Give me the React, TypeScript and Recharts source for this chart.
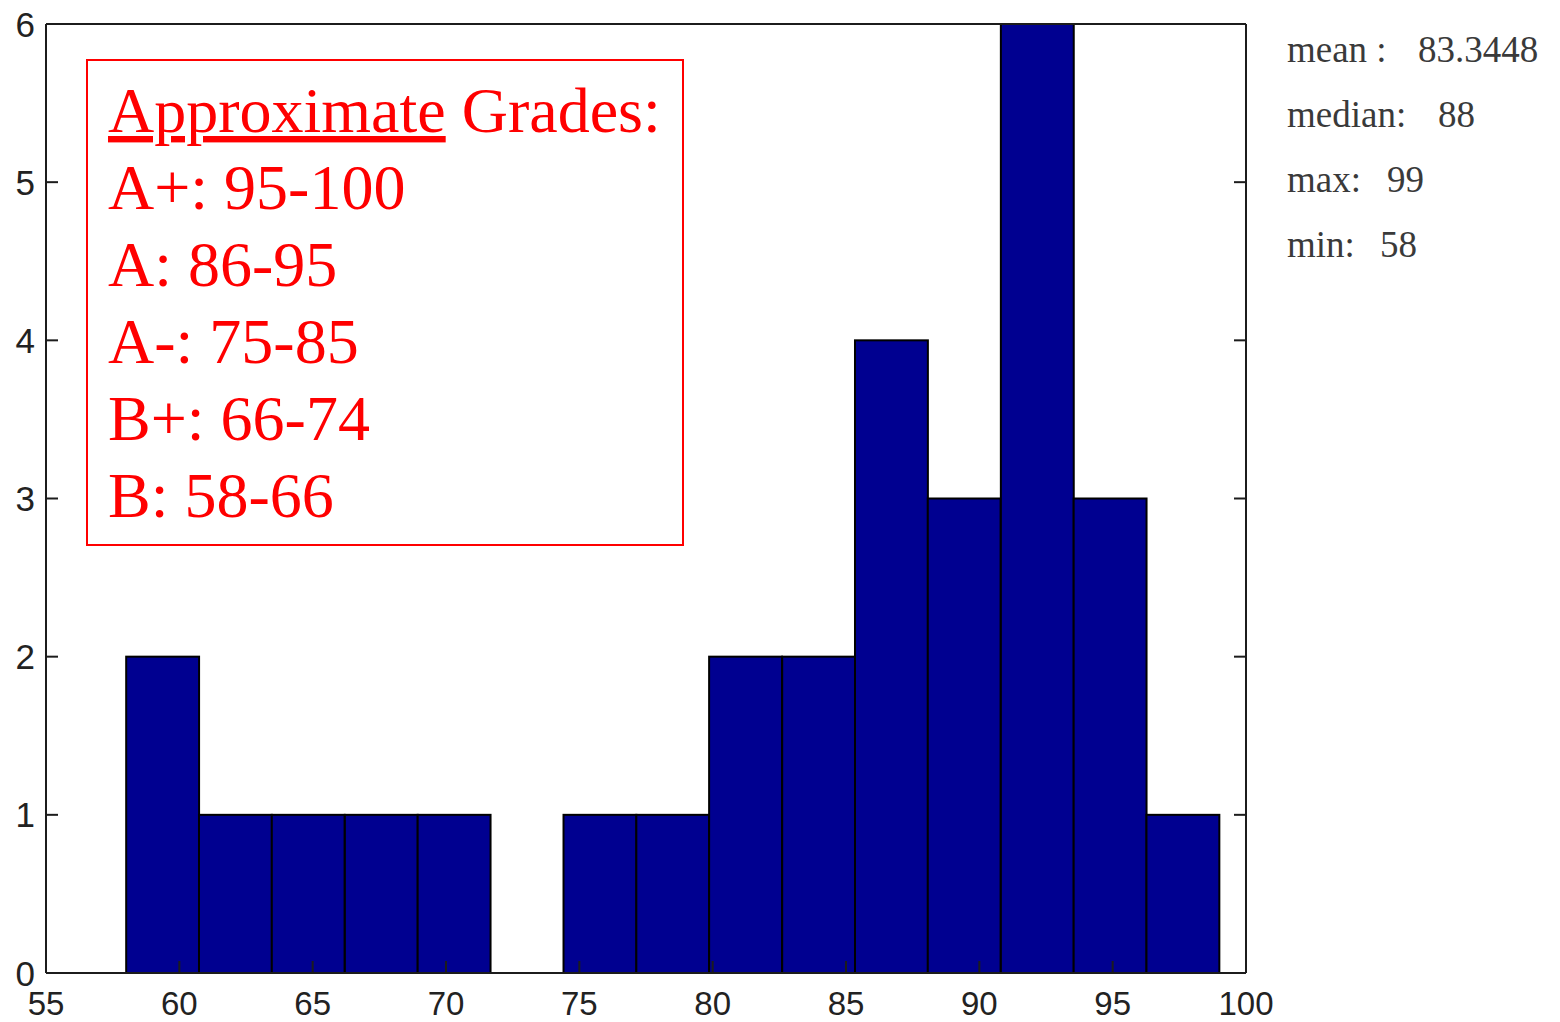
import React from "react"
import { ComposedChart, Bar, XAxis, YAxis } from "recharts"

// histogram of exam scores (15 bins between 58 and 99)
const binCenters = [59.37, 62.1, 64.83, 67.57, 70.3, 73.03, 75.77, 78.5, 81.23, 83.97, 86.7, 89.43, 92.17, 94.9, 97.63]
const binCounts = [2, 1, 1, 1, 1, 0, 1, 1, 2, 2, 4, 3, 6, 3, 1]
const binWidth = 2.7333

const xTicks = [55, 60, 65, 70, 75, 80, 85, 90, 95, 100]
const yTicks = [0, 1, 2, 3, 4, 5, 6]

const gradeTitle = ["Approximate", " Grades:"]
const gradeLines = ["A+: 95-100", "A: 86-95", "A-: 75-85", "B+: 66-74", "B: 58-66"]

const statLabels = ["mean :", "median:", "max:", "min:"]
const statValues = ["83.3448", "88", "99", "58"]

const W = 1560
const H = 1022
const M = { top: 23, right: 313, bottom: 0, left: 0 }
const Y_AXIS_W = 46
const X_AXIS_H = 49
const PLOT_RIGHT = W - M.right - 1
const PLOT_W = PLOT_RIGHT - Y_AXIS_W
const X_MIN = 55
const X_MAX = 100

const AXIS = "#1c1c1c"
const TICK_LEN = 12
const LABEL_FONT = "'Liberation Sans', Arial, sans-serif"
const SERIF = "'Liberation Serif', 'Times New Roman', serif"

const data = binCenters.map((x, i) => ({ x, count: binCounts[i] }))

const LeftTick = (props: any) => {
  const { x, y, payload } = props
  return (
    <g>
      <line x1={x} y1={y} x2={x + TICK_LEN} y2={y} stroke={AXIS} strokeWidth={2} />
      <text x={x - 11} y={y} textAnchor="end" dominantBaseline="central" fontSize={35} fontFamily={LABEL_FONT} fill="#222">
        {payload.value}
      </text>
    </g>
  )
}

const RightTick = (props: any) => {
  const { x, y } = props
  if (x > PLOT_RIGHT + 2) return <g />
  return <line x1={x} y1={y} x2={x - TICK_LEN} y2={y} stroke={AXIS} strokeWidth={2} />
}

const BottomTick = (props: any) => {
  const { x, y, payload } = props
  return (
    <g>
      <line x1={x} y1={y} x2={x} y2={y - TICK_LEN} stroke={AXIS} strokeWidth={2} />
      <text x={x} y={y + 42} textAnchor="middle" fontSize={33} fontFamily={LABEL_FONT} fill="#222">
        {payload.value}
      </text>
    </g>
  )
}

const TopTick = (props: any) => {
  const { x, y } = props
  if (x > PLOT_RIGHT + 2) return <g />
  return <line x1={x} y1={y} x2={x} y2={y + TICK_LEN} stroke={AXIS} strokeWidth={2} />
}

export default function App() {
  const barSize = (PLOT_W * binWidth) / (X_MAX - X_MIN)

  // each bin is drawn edge to edge, centred on its value
  const HistBar = (props: any) => {
    const { x, y, width, height } = props
    if (!height || height <= 0) return <g />
    const cx = x + width / 2
    return <rect x={cx - barSize / 2} y={y} width={barSize} height={height} fill="#000090" stroke="#000" strokeWidth={2} />
  }

  return (
    <div style={{ position: "absolute", left: 0, top: 0, width: W, height: H, background: "#fff" }}>
      <ComposedChart width={W} height={H} data={data} margin={M} barCategoryGap={0} barGap={0}>
        <Bar
          xAxisId="bottom"
          yAxisId="left"
          dataKey="count"
          fill="#000090"
          stroke="#000"
          strokeWidth={2}
          shape={HistBar}
          isAnimationActive={false}
        />
        <XAxis
          xAxisId="bottom"
          dataKey="x"
          type="number"
          domain={[X_MIN, X_MAX]}
          ticks={xTicks}
          allowDataOverflow
          height={X_AXIS_H}
          tickSize={0}
          tickMargin={0}
          tickLine={false}
          axisLine={{ stroke: AXIS, strokeWidth: 2 }}
          tick={<BottomTick />}
        />
        <XAxis
          xAxisId="top"
          orientation="top"
          type="number"
          domain={[X_MIN, X_MAX]}
          ticks={xTicks}
          allowDataOverflow
          height={1}
          tickSize={0}
          tickMargin={0}
          tickLine={false}
          axisLine={{ stroke: AXIS, strokeWidth: 2 }}
          tick={<TopTick />}
        />
        <YAxis
          yAxisId="left"
          type="number"
          domain={[0, 6]}
          ticks={yTicks}
          allowDataOverflow
          width={Y_AXIS_W}
          tickSize={0}
          tickMargin={0}
          tickLine={false}
          axisLine={{ stroke: AXIS, strokeWidth: 2 }}
          tick={<LeftTick />}
        />
        <YAxis
          yAxisId="right"
          orientation="right"
          type="number"
          domain={[0, 6]}
          ticks={yTicks}
          allowDataOverflow
          width={1}
          tickSize={0}
          tickMargin={0}
          tickLine={false}
          axisLine={{ stroke: AXIS, strokeWidth: 2 }}
          tick={<RightTick />}
        />
      </ComposedChart>

      <svg width={W} height={H} style={{ position: "absolute", left: 0, top: 0, pointerEvents: "none" }}>
        <rect x={87} y={60} width={596} height={485} fill="none" stroke="#ff0000" strokeWidth={2} />
        <text x={108} y={132} fontSize={64} fontFamily={SERIF} fill="#ff0000" style={{ whiteSpace: "pre" }}>
          <tspan style={{ textDecoration: "underline" }}>{gradeTitle[0]}</tspan>
          <tspan>{gradeTitle[1]}</tspan>
        </text>
        {gradeLines.map((line, i) => (
          <text key={line} x={108} y={209 + i * 77} fontSize={64} fontFamily={SERIF} fill="#ff0000">
            {line}
          </text>
        ))}
        {statLabels.map((label, i) => (
          <text key={label} y={62 + i * 65} fontSize={37} fontFamily={SERIF} fill="#3a3a3a">
            <tspan x={1287}>{label}</tspan>
            <tspan x={[1418, 1438, 1387, 1380][i]}>{statValues[i]}</tspan>
          </text>
        ))}
      </svg>
    </div>
  )
}
